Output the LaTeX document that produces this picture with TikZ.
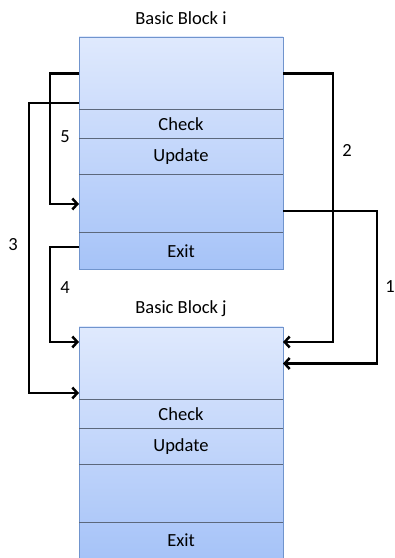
\documentclass[tikz,border=0pt]{standalone}
\usepackage{fontspec}
\setmainfont{Carlito}
\usetikzlibrary{positioning}
\usetikzlibrary{chains}
\usetikzlibrary{fit}
\usetikzlibrary{backgrounds}
\usetikzlibrary{arrows.meta}

\definecolor{blocktop}{RGB}{223,233,253}
\definecolor{blockbot}{RGB}{166,195,248}
\definecolor{blockedge}{RGB}{112,148,205}
\definecolor{divline}{RGB}{92,104,124}

\begin{document}
\begin{tikzpicture}[x=1pt, y=1pt,
            node distance = 0pt,
            font = \fontsize{18.5}{22}\selectfont,
            sect/.style = {on chain, minimum width=204pt,
                inner sep=0pt, outer sep=0pt},
            blockbox/.style = {draw=blockedge, line width=0.8pt,
                top color=blocktop, bottom color=blockbot, inner sep=0pt},
            divider/.style = {draw=divline, line width=1pt},
            flow/.style = {-{Straight Barb[length=5pt,width=11pt]},
                line width=2.5pt},
            title/.style = {},
            num/.style = {}]
            \useasboundingbox (0,0) rectangle (395,558);
            % block i
            \begin{scope}[start chain = going below]
                \node[sect, minimum height=73pt, anchor=north west] (it) at (79,521) {};
                \node[sect, minimum height=29pt] (ic) {Check};
                \node[sect, minimum height=36pt] (iu) {Update};
                \node[sect, minimum height=58pt] (ib) {};
                \node[sect, minimum height=36pt] (ix) {Exit};
            \end{scope}
            % block j
            \begin{scope}[start chain = going below]
                \node[sect, minimum height=73pt, anchor=north west] (jt) at (79,231) {};
                \node[sect, minimum height=29pt] (jc) {Check};
                \node[sect, minimum height=36pt] (ju) {Update};
                \node[sect, minimum height=58pt] (jb) {};
                \node[sect, minimum height=35pt] (jx) {Exit};
            \end{scope}
            \begin{scope}[on background layer]
                \node[blockbox, fit=(it)(ix)] (bi) {};
                \node[blockbox, fit=(jt)(jx)] (bj) {};
            \end{scope}
            \foreach \s in {it,ic,iu,ib,jt,jc,ju,jb}
                \draw[divider] (\s.south west) -- (\s.south east);
            \node[title] (ti) at ([yshift=19pt]it.north) {Basic Block i};
            \node[title] (tj) at ([yshift=18pt]jt.north) {Basic Block j};
            % control flow
            \draw[flow] ([yshift=4pt]ix.west) -- ++(-29,0) |- ([yshift=-15pt]jt.north west);
            \draw[flow] (it.west) -- ++(-29,0) |- (ib.west);
            \draw[flow] ([yshift=7pt]it.south west) -- ++(-50,0) |- ([yshift=7pt]jt.south west);
            \draw[flow] ([yshift=-7pt]ib.east) -- ++(94,0) |- (jt.east);
            \draw[flow] (it.east) -- ++(50,0) |- ([yshift=-15pt]jt.north east);
            \node[num] (n1) at (390,271) {1};
            \node[num] (n2) at (347,408) {2};
            \node[num] (n3) at (13,313) {3};
            \node[num] (n4) at (65,270) {4};
            \node[num] (n5) at (65,421) {5};
        \end{tikzpicture}
\end{document}
